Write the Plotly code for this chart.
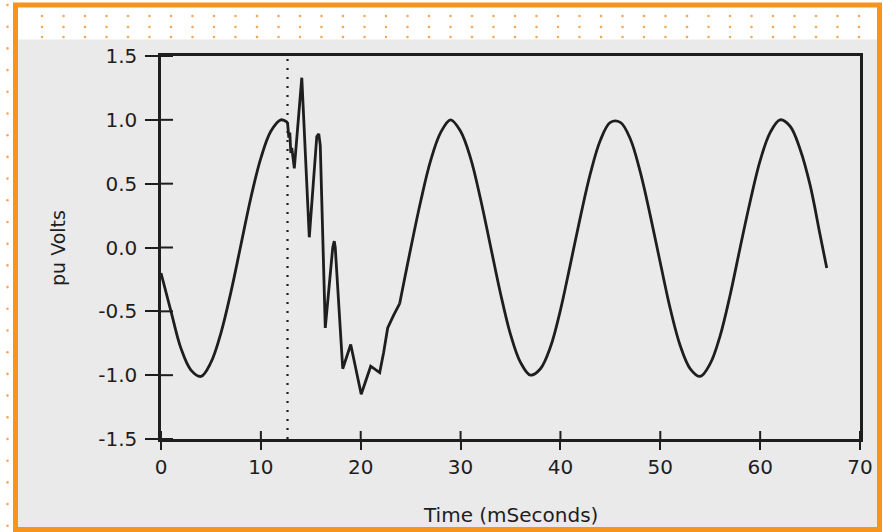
import plotly.graph_objects as go

# ---------------- data ----------------
# pre-fault steady state (ms, pu)
pre_t = [0, 1, 2, 3, 4, 5, 6, 7, 8, 9, 10, 11, 12, 12.67]
pre_v = [-0.20, -0.50, -0.79, -0.96, -1.01, -0.90, -0.67, -0.35, 0.02, 0.39, 0.70, 0.91, 1.00, 0.98]

# switching transient
tr_t = [12.67, 12.8, 12.9, 13.0, 13.1, 13.25, 13.35, 14.1, 14.85, 15.6, 15.8, 15.95,
        16.45, 17.2, 17.35, 17.45, 18.2, 19.0, 20.05, 21.0, 21.9, 22.3, 22.7, 23.3, 23.9]
tr_v = [0.98, 0.86, 0.90, 0.74, 0.78, 0.65, 0.62, 1.33, 0.08, 0.87, 0.89, 0.80,
        -0.63, 0.00, 0.05, 0.00, -0.95, -0.76, -1.15, -0.93, -0.98, -0.82, -0.63, -0.53, -0.44]

# post-transient steady state
post_t = [23.9, 24, 25, 26, 27, 28, 29, 30, 31, 32, 33, 34, 35, 36, 37, 38, 39, 40,
          41, 42, 43, 44, 45, 46, 47, 48, 49, 50, 51, 52, 53, 54, 55, 56, 57, 58,
          59, 60, 61, 62, 63, 64, 65, 66, 66.67]
post_v = [-0.44, -0.40, -0.01, 0.36, 0.68, 0.90, 1.00, 0.91, 0.70, 0.38, 0.01, -0.36,
          -0.68, -0.90, -1.00, -0.95, -0.78, -0.49, -0.13, 0.24, 0.58, 0.84, 0.98, 0.98,
          0.85, 0.59, 0.25, -0.12, -0.48, -0.77, -0.95, -1.01, -0.91, -0.69, -0.37, 0.00,
          0.36, 0.68, 0.90, 1.00, 0.95, 0.77, 0.49, 0.10, -0.16]

switch_time = [12.67, 12.67]
switch_span = [-1.5, 1.5]

x_ticks = [0, 10, 20, 30, 40, 50, 60, 70]
y_ticks = [-1.5, -1.0, -0.5, 0.0, 0.5, 1.0, 1.5]
y_tick_text = ["-1.5", "-1.0", "-0.5", "0.0", "0.5", "1.0", "1.5"]

x_title = "Time (mSeconds)"
y_title = "pu Volts"

# ---------------- styling ----------------
INK = "#1e1e1e"
FONT = "DejaVu Sans"
ORANGE = "#f7941d"
DOT = "#f6a857"
PAGE = "#eaeaea"

FW, FH = 883, 532
L, R, T, B = 161, 860, 56, 439
W, H = R - L, B - T


def px(xp):
    return (xp - L) / W


def py(yp):
    return (B - yp) / H


fig = go.Figure()
line_style = dict(color=INK, width=2.8)
fig.add_trace(go.Scatter(x=pre_t, y=pre_v, mode="lines", line=dict(shape="spline", **line_style),
                         hoverinfo="skip", showlegend=False))
fig.add_trace(go.Scatter(x=tr_t, y=tr_v, mode="lines", line=dict(shape="linear", **line_style),
                         hoverinfo="skip", showlegend=False))
fig.add_trace(go.Scatter(x=post_t, y=post_v, mode="lines", line=dict(shape="spline", **line_style),
                         hoverinfo="skip", showlegend=False))
fig.add_trace(go.Scatter(x=switch_time, y=switch_span, mode="lines",
                         line=dict(color=INK, width=2.2, dash="2px,7px"),
                         hoverinfo="skip", showlegend=False))

shapes = []
# page background and orange frame
shapes.append(dict(type="rect", xref="paper", yref="paper", layer="below",
                   x0=px(18), x1=px(877), y0=py(527), y1=py(39.5),
                   fillcolor=PAGE, line=dict(width=0)))
shapes.append(dict(type="rect", xref="paper", yref="paper", layer="below",
                   x0=px(15.5), x1=px(879.5), y0=py(529.5), y1=py(5),
                   fillcolor="rgba(0,0,0,0)", line=dict(color=ORANGE, width=5)))
# dotted decoration
r = 1.3
dot_pts = []
for yy in (16, 27, 37):
    xx = 42.0
    while xx < 866:
        dot_pts.append((xx, yy))
        xx += 21.5
yy = 5.0
while yy < 528:
    dot_pts.append((7.5, yy))
    yy += 21.7
for (cx, cy) in dot_pts:
    shapes.append(dict(type="circle", xref="paper", yref="paper", layer="below",
                       x0=px(cx - r), x1=px(cx + r), y0=py(cy + r), y1=py(cy - r),
                       fillcolor=DOT, line=dict(width=0)))

# inner halves of the crossing tick marks (positions from the tick arrays)
for xv in x_ticks:
    shapes.append(dict(type="line", xref="x", yref="y domain", layer="above",
                       x0=xv, x1=xv, y0=0, y1=8 / H, line=dict(color=INK, width=2)))
for yv in y_ticks:
    shapes.append(dict(type="line", xref="x domain", yref="y", layer="above",
                       x0=0, x1=12 / W, y0=yv, y1=yv, line=dict(color=INK, width=2)))

tickfont = dict(family=FONT, size=20, color=INK)

fig.update_layout(
    width=FW, height=FH,
    margin=dict(l=L, r=FW - R, t=T, b=FH - B, pad=0),
    paper_bgcolor="white",
    plot_bgcolor="rgba(0,0,0,0)",
    shapes=shapes,
    xaxis=dict(range=[0, 70], tickvals=x_ticks, ticks="outside", ticklen=8, tickwidth=2,
               tickcolor=INK, showline=True, linewidth=2.5, linecolor=INK, mirror=True,
               showgrid=False, zeroline=False, tickfont=tickfont, automargin=False),
    yaxis=dict(range=[-1.5, 1.5], tickvals=y_ticks, ticktext=y_tick_text, ticks="outside",
               ticklen=13, tickwidth=2, tickcolor=INK, showline=True, linewidth=2.5,
               linecolor=INK, mirror=True, showgrid=False, zeroline=False, tickfont=tickfont,
               ticklabelstandoff=4, automargin=False),
    annotations=[
        dict(text=x_title, xref="paper", yref="paper", x=px(510), y=py(515),
             xanchor="center", yanchor="middle", showarrow=False,
             font=dict(family=FONT, size=20, color=INK)),
        dict(text=y_title, xref="paper", yref="paper", x=px(58), y=py(248),
             xanchor="center", yanchor="middle", showarrow=False, textangle=-90,
             font=dict(family=FONT, size=19, color=INK)),
    ],
)

fig.write_html("out.html")
